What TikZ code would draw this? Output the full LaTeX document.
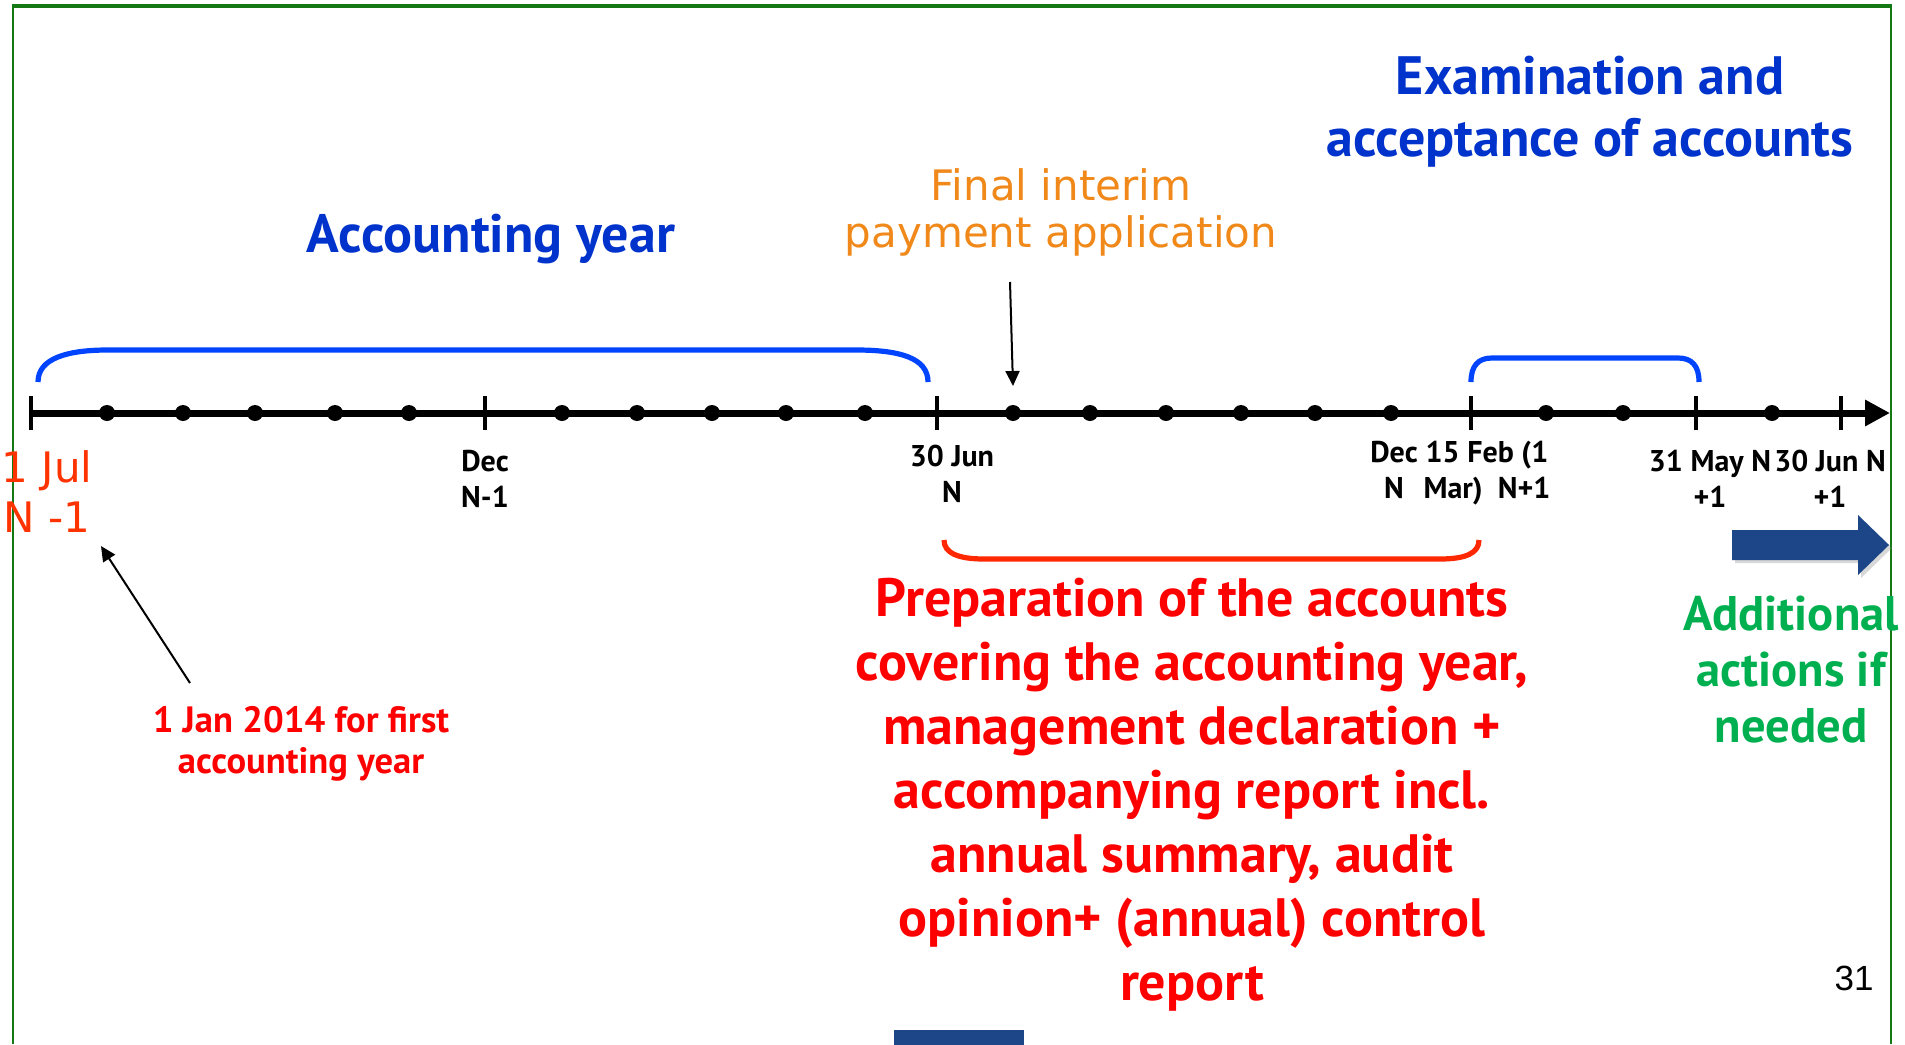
\documentclass[tikz,border=0pt]{standalone}
\usepackage{fontspec}
\setmainfont{PT Sans}
\newfontfamily\dvs{DejaVu Sans}
\newfontfamily\lib{Liberation Sans}
\usetikzlibrary{arrows.meta,shadows}
\definecolor{hblue}{RGB}{0,51,204}
\definecolor{bblue}{RGB}{0,68,255}
\definecolor{orng}{RGB}{240,137,26}
\definecolor{rtxt}{RGB}{255,0,0}
\definecolor{rbr}{RGB}{255,40,0}
\definecolor{jul}{RGB}{255,51,0}
\definecolor{grn}{RGB}{0,176,80}
\definecolor{darr}{RGB}{28,70,136}
\definecolor{bord}{RGB}{20,120,20}
\begin{document}
\begin{tikzpicture}[x=0.5pt,y=-0.5pt,
  lbl/.style={anchor=base,inner sep=0pt,align=center,font=\fontsize{15pt}{18pt}\selectfont\bfseries},
  big/.style={anchor=base,inner sep=0pt,align=center,font=\fontsize{27pt}{31pt}\selectfont\bfseries},
  tick/.style={line width=2.2pt},
  dot/.style={fill=black},
  thin/.style={line width=1pt,-{Triangle[length=7.5pt,width=7pt]}},
  brk/.style={line width=2.6pt}]
\useasboundingbox (0,0) rectangle (1905,1044);
\fill[white] (0,0) rectangle (1905,1044);
% border
\draw[bord,line width=1pt] (13,1044) -- (13,6);
\draw[bord,line width=1pt] (1891,6) -- (1891,1044);
\draw[bord,line width=1.6pt] (12,6) -- (1892,6);
% timeline
\coordinate (t0) at (31,413);
\coordinate (t1) at (1890,413);
\draw[line width=3.5pt,-{Triangle[length=12.5pt,width=12.5pt]}] (t0) -- (t1);
\foreach \x in {31,485,937,1471,1696,1841}
  \draw[tick] (\x,396) -- (\x,430);
\foreach \x in {107,183,255,335,409,562,637,712,786,865,1013,1090,1166,1241,1315,1391,1546,1623,1772}
  \fill[dot] (\x,413) circle (8);
\coordinate (d13) at (1013,413);
% brackets
\draw[bblue,brk] (38,382) .. controls (38,358) and (68,350) .. (108,350) -- (856,350) .. controls (900,350) and (928,358) .. (928,382);
\draw[bblue,brk] (1471,382) .. controls (1471,366) and (1478,358) .. (1492,358) -- (1678,358) .. controls (1692,358) and (1699,366) .. (1699,382);
\draw[rbr,brk] (944,540) .. controls (944,553) and (958,559) .. (984,559) -- (1440,559) .. controls (1466,559) and (1479,553) .. (1479,540);
% labels under timeline (base = last line)
\node[lbl] (l1) at (485,507) {Dec\\N-1};
\node[lbl] (l2) at (952,502) {30 Jun\\N};
\node[lbl] (l3) at (1394,498) {Dec\\N};
\node[lbl] (l4) at (1487,498) {15 Feb (1\\Mar)~ N+1};
\node[lbl] (l5) at (1710,507) {31 May N\\+1};
\node[lbl] (l6) at (1830,507) {30 Jun N\\+1};
\node[anchor=base,inner sep=0pt,align=center,text=jul,font=\dvs\fontsize{21pt}{25pt}\selectfont] (jul) at (47,532) {1 Jul\\N -1};
% headings
\node[big,text=hblue] (acc) at (491,252) {Accounting year};
\node[big,text=hblue] (exam) at (1590,156) {Examination and\\acceptance of accounts};
\node[anchor=base,inner sep=0pt,align=center,text=orng,font=\dvs\fontsize{21pt}{23.5pt}\selectfont] (fin) at (1061,247) {Final interim\\payment application};
\coordinate (finarr) at (1010,282);
\draw[thin] (finarr) -- (d13 |- 0,386);
% red text
\node[big,text=rtxt,font=\fontsize{27pt}{32pt}\selectfont\bfseries] (prep) at (1192,1000) {Preparation of the accounts\\covering the accounting year,\\management declaration +\\accompanying report incl.\\annual summary, audit\\opinion+ (annual) control\\report};
\node[anchor=base,inner sep=0pt,align=center,text=rtxt,font=\fontsize{18.3pt}{20.5pt}\selectfont\bfseries] (jan) at (301,773) {1 Jan 2014 for first\\accounting year};
\coordinate (janarr) at (190,683);
\coordinate (julpt) at (101,546);
\draw[thin] (janarr) -- (julpt);
% green
\node[anchor=base,inner sep=0pt,align=center,text=grn,font=\fontsize{24.3pt}{28pt}\selectfont\bfseries] (add) at (1791,742) {Additional\\actions if\\needed};
% block arrow
\fill[darr,drop shadow={shadow xshift=1.5pt,shadow yshift=-1.5pt,opacity=0.3}] (1732,530) -- (1858,530) -- (1858,515) -- (1889,545) -- (1858,575) -- (1858,560) -- (1732,560) -- cycle;
% page number
\node[anchor=base,inner sep=0pt,font=\lib\fontsize{17.5pt}{20pt}\selectfont] (pg) at (1854,990) {31};
% bottom bar
\fill[darr] (894,1030) rectangle (1024,1046);
\end{tikzpicture}
\end{document}
